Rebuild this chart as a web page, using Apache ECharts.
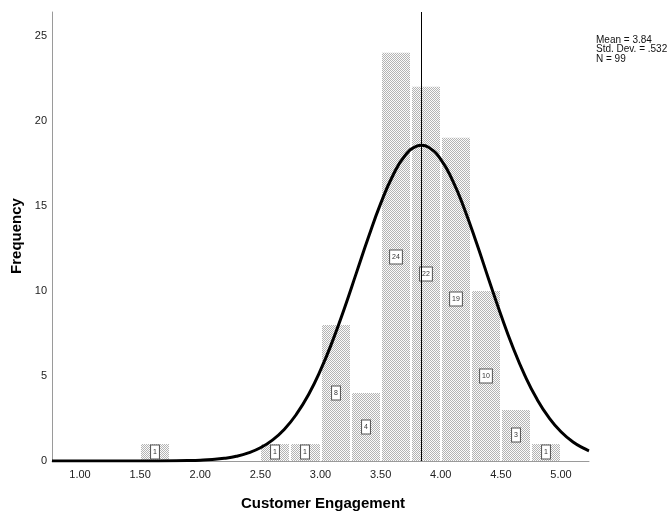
<!DOCTYPE html>
<html>
<head>
<meta charset="utf-8">
<script src="https://cdn.jsdelivr.net/npm/echarts@6/dist/echarts.min.js"></script>
<style>
html,body{margin:0;padding:0;background:#fff;}
#chart{width:668px;height:512px;}
</style>
</head>
<body>
<div id="chart"></div>
<script>
// ---- data ----
var binStarts = [1.50, 2.50, 2.75, 3.00, 3.25, 3.50, 3.75, 4.00, 4.25, 4.50, 4.75];
var binCounts = [1, 1, 1, 8, 4, 24, 22, 19, 10, 3, 1];
var binWidth = 0.25;
var meanValue = 3.84;
var statLines = ['Mean = 3.84', 'Std. Dev. = .532', 'N = 99'];
var xTicks = [1.00, 1.50, 2.00, 2.50, 3.00, 3.50, 4.00, 4.50, 5.00];
var yTicks = [0, 5, 10, 15, 20, 25];
// normal curve, values
var curveX = [0.767, 1.0, 1.5, 1.8, 1.9, 2.0, 2.1, 2.2, 2.3, 2.4, 2.5, 2.6, 2.7, 2.8, 2.9, 3.0, 3.1, 3.2, 3.3, 3.4, 3.5, 3.6, 3.7, 3.8, 3.84, 3.9, 4.0, 4.1, 4.2, 4.3, 4.4, 4.5, 4.6, 4.7, 4.8, 4.9, 5.0, 5.1, 5.2, 5.233];
var curveY = [0, 0, 0.001, 0.012, 0.024, 0.047, 0.088, 0.16, 0.28, 0.48, 0.78, 1.23, 1.87, 2.75, 3.90, 5.34, 7.05, 9.00, 11.09, 13.18, 15.13, 16.76, 17.93, 18.51, 18.56, 18.44, 17.74, 16.47, 14.76, 12.77, 10.66, 8.60, 6.69, 5.02, 3.64, 2.55, 1.72, 1.12, 0.71, 0.60];
var xTitle = 'Customer Engagement';
var yTitle = 'Frequency';

// ---- build ----
var barData = binStarts.map(function (s, i) { return [s, binCounts[i]]; });
var curveData = curveX.map(function (x, i) { return [x, curveY[i]]; });

var pc = document.createElement('canvas');
pc.width = 2; pc.height = 2;
var pctx = pc.getContext('2d');
pctx.fillStyle = '#fbfbfb'; pctx.fillRect(0, 0, 2, 2);
pctx.fillStyle = '#b4b4b4'; pctx.fillRect(0, 0, 1, 1); pctx.fillRect(1, 1, 1, 1);
var pattern = { image: pc, repeat: 'repeat' };

var FONT = '"Liberation Sans", Arial, sans-serif';
var chart = echarts.init(document.getElementById('chart'), null, { renderer: 'canvas' });

chart.setOption({
  backgroundColor: '#ffffff',
  animation: false,
  grid: { left: 52, right: 79, top: 12, bottom: 51 },
  xAxis: {
    type: 'value', min: 0.767, max: 5.233,
    axisLine: { show: true, lineStyle: { color: '#9a9a9a', width: 1 } },
    axisTick: { show: false },
    splitLine: { show: false },
    axisLabel: {
      customValues: xTicks, margin: 8, fontSize: 11, color: '#222', fontFamily: FONT,
      formatter: function (v) { return v.toFixed(2); }
    }
  },
  yAxis: {
    type: 'value', min: 0, max: 26.4,
    axisLine: { show: true, lineStyle: { color: '#9a9a9a', width: 1 } },
    axisTick: { show: false },
    splitLine: { show: false },
    axisLabel: { customValues: yTicks, margin: 5, fontSize: 11, color: '#222', fontFamily: FONT }
  },
  series: [
    {
      type: 'custom', z: 1, data: barData,
      renderItem: function (params, api) {
        var s = api.value(0), c = api.value(1);
        var p0 = api.coord([s, c]);
        var p1 = api.coord([s + binWidth, 0]);
        return {
          type: 'rect',
          shape: { x: Math.round(p0[0]) + 1, y: p0[1], width: Math.round(p1[0]) - Math.round(p0[0]) - 2, height: p1[1] - p0[1] },
          style: { fill: pattern }
        };
      }
    },
    {
      type: 'line', z: 2, data: [],
      markLine: {
        silent: true, symbol: 'none', label: { show: false },
        lineStyle: { color: '#000', width: 1, type: 'solid' },
        data: [{ xAxis: meanValue }]
      }
    },
    {
      type: 'line', z: 3, data: curveData, smooth: true, showSymbol: false,
      lineStyle: { color: '#000', width: 3 }
    },
    {
      type: 'custom', z: 4, data: barData,
      renderItem: function (params, api) {
        var s = api.value(0), c = api.value(1);
        var p = api.coord([s + binWidth / 2, c / 2]);
        return {
          type: 'text', x: Math.round(p[0]), y: Math.round(p[1]),
          style: {
            text: String(c), align: 'center', verticalAlign: 'middle',
            fontSize: 7, fontFamily: FONT, fill: '#333',
            backgroundColor: '#fff', borderColor: '#555', borderWidth: 1, padding: [3, 2]
          }
        };
      }
    }
  ],
  graphic: [
    {
      type: 'text', left: 596, top: 35,
      style: { text: statLines.join('\n'), fontSize: 10, lineHeight: 9.7, fontFamily: FONT, fill: '#111' }
    },
    {
      type: 'text', x: 323, y: 504,
      style: { text: xTitle, fontSize: 15, fontWeight: 'bold', fontFamily: FONT, fill: '#000', align: 'center', verticalAlign: 'middle' }
    },
    {
      type: 'text', x: 17, y: 236, rotation: Math.PI / 2,
      style: { text: yTitle, fontSize: 15, fontWeight: 'bold', fontFamily: FONT, fill: '#000', align: 'center', verticalAlign: 'middle' }
    }
  ]
});
</script>
</body>
</html>
